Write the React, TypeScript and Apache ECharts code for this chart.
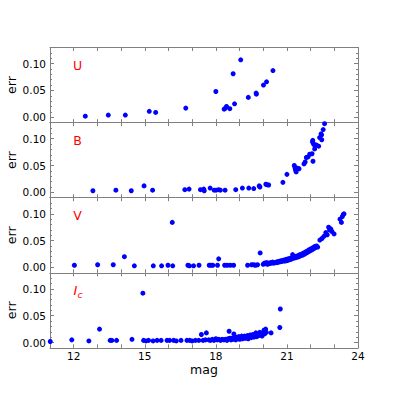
import React, { useEffect, useRef } from 'react';
import * as echarts from 'echarts';

const X_MIN = 11;
const X_MAX = 24;
const Y_MIN = -0.01;
const Y_MAX = 0.13;
const xLabelValues = [12, 15, 18, 21, 24];
const yMajorValues = [0, 0.05, 0.1];
const yMinorValues = [-0.01, 0, 0.01, 0.02, 0.03, 0.04, 0.05, 0.06, 0.07, 0.08, 0.09, 0.1, 0.11, 0.12, 0.13];
const bandNames = ['U', 'B', 'V', 'I'];

const uPoints: [number, number][] = [
  [12.49, 0.002], [13.46, 0.004], [14.18, 0.004], [15.19, 0.011], [15.46, 0.009],
  [16.73, 0.017], [18.0, 0.048], [18.35, 0.015], [18.4, 0.017], [18.45, 0.02],
  [18.59, 0.016], [18.79, 0.025], [18.73, 0.081], [19.05, 0.107], [19.37, 0.037],
  [19.7, 0.045], [19.71, 0.043], [20.01, 0.06], [20.14, 0.066], [20.41, 0.087],
];

const bPoints: [number, number][] = [
  [12.81, 0.003], [13.78, 0.004], [14.43, 0.003], [14.97, 0.012], [15.33, 0.004],
  [16.69, 0.005], [16.87, 0.006], [17.35, 0.005], [17.49, 0.006], [17.51, 0.003],
  [17.76, 0.008], [17.93, 0.004], [18.01, 0.004], [18.12, 0.005], [18.19, 0.004],
  [18.39, 0.004], [18.84, 0.005], [19.12, 0.008], [19.39, 0.008], [19.6, 0.007],
  [19.83, 0.012], [19.86, 0.01], [20.11, 0.015], [20.17, 0.014], [20.23, 0.0137],
  [20.83, 0.0186], [21.0, 0.0335], [21.31, 0.05], [21.34, 0.047], [21.37, 0.041],
  [21.4, 0.043], [21.35, 0.044], [21.39, 0.038], [21.51, 0.044], [21.45, 0.045],
  [21.72, 0.053], [21.77, 0.0565], [21.82, 0.065], [21.89, 0.066], [21.96, 0.071],
  [22.06, 0.072], [22.1, 0.058], [22.08, 0.094], [22.09, 0.097], [22.12, 0.091],
  [22.14, 0.089], [22.17, 0.081], [22.25, 0.088], [22.34, 0.086], [22.38, 0.102],
  [22.44, 0.109], [22.46, 0.107], [22.47, 0.098], [22.53, 0.117], [22.59, 0.128],
];

const vPoints: [number, number][] = [
  [12.03, 0.004], [13.01, 0.005], [13.67, 0.005], [14.14, 0.02], [14.56, 0.003],
  [15.36, 0.003], [15.71, 0.003], [15.98, 0.004], [16.18, 0.003], [16.16, 0.084],
  [16.82, 0.004], [16.89, 0.003], [17.06, 0.003], [17.29, 0.004], [17.72, 0.004],
  [17.79, 0.004], [17.87, 0.004], [18.07, 0.004], [18.12, 0.016], [18.37, 0.004],
  [18.48, 0.004], [18.61, 0.004], [18.75, 0.004], [19.34, 0.004], [19.51, 0.005],
  [19.6, 0.005], [19.67, 0.004], [19.76, 0.005], [19.87, 0.027],
  [20.0, 0.006], [20.05, 0.008], [20.1, 0.007], [20.14, 0.009], [20.18, 0.006],
  [20.22, 0.008], [20.27, 0.007], [20.31, 0.009], [20.36, 0.008], [20.4, 0.01],
  [20.45, 0.008], [20.5, 0.009], [20.55, 0.01], [20.59, 0.009], [20.63, 0.011],
  [20.68, 0.01], [20.72, 0.012], [20.77, 0.011], [20.8, 0.013], [20.85, 0.012],
  [20.89, 0.014], [20.93, 0.012], [20.97, 0.015], [21.01, 0.013], [21.05, 0.016],
  [21.09, 0.014], [21.13, 0.017], [21.17, 0.015], [21.21, 0.018], [21.24, 0.024],
  [21.27, 0.017], [21.31, 0.019], [21.35, 0.018], [21.39, 0.021], [21.43, 0.019],
  [21.47, 0.022], [21.51, 0.02], [21.55, 0.024], [21.59, 0.022], [21.63, 0.025],
  [21.67, 0.023], [21.71, 0.027], [21.75, 0.025], [21.79, 0.029], [21.83, 0.027],
  [21.87, 0.031], [21.9, 0.029], [21.94, 0.033], [21.98, 0.031], [22.02, 0.035],
  [22.06, 0.033], [22.1, 0.037], [22.14, 0.035], [22.18, 0.039], [22.21, 0.037],
  [22.25, 0.04], [22.3, 0.038], [22.39, 0.051], [22.48, 0.054], [22.56, 0.058],
  [22.64, 0.065], [22.7, 0.061], [22.76, 0.075], [22.8, 0.07], [22.85, 0.072],
  [22.9, 0.067], [22.99, 0.0625], [23.24, 0.09], [23.3, 0.084], [23.34, 0.095],
  [23.38, 0.099], [23.41, 0.1],
];

const iPoints: [number, number][] = [
  [11.01, 0.002], [11.92, 0.005], [12.64, 0.003], [13.09, 0.025], [13.54, 0.004],
  [13.61, 0.004], [13.81, 0.004], [14.46, 0.006], [14.92, 0.092], [14.95, 0.004],
  [15.05, 0.003], [15.16, 0.004], [15.35, 0.003], [15.52, 0.004], [15.69, 0.004],
  [15.94, 0.004], [16.05, 0.004], [16.22, 0.004], [16.33, 0.003], [16.53, 0.004],
  [16.78, 0.004], [16.9, 0.004], [17.0, 0.003], [17.14, 0.004], [17.28, 0.004],
  [17.39, 0.015], [17.46, 0.004], [17.56, 0.005], [17.6, 0.018], [17.7, 0.005],
  [17.77, 0.004], [17.85, 0.006], [17.92, 0.004], [18.0, 0.007], [18.06, 0.005],
  [18.13, 0.006], [18.2, 0.004], [18.27, 0.006], [18.34, 0.005], [18.41, 0.006],
  [18.47, 0.004], [18.52, 0.007], [18.56, 0.021], [18.6, 0.008], [18.64, 0.005],
  [18.69, 0.008], [18.73, 0.006], [18.76, 0.016], [18.8, 0.009], [18.84, 0.005],
  [18.88, 0.01], [18.92, 0.007], [18.97, 0.011], [19.01, 0.006], [19.05, 0.009],
  [19.09, 0.012], [19.13, 0.007], [19.17, 0.01], [19.21, 0.012], [19.25, 0.008],
  [19.29, 0.011], [19.33, 0.013], [19.37, 0.007], [19.41, 0.012], [19.45, 0.014],
  [19.49, 0.009], [19.53, 0.013], [19.57, 0.015], [19.61, 0.01], [19.65, 0.014],
  [19.69, 0.018], [19.73, 0.011], [19.77, 0.016], [19.81, 0.013], [19.85, 0.019],
  [19.9, 0.015], [19.95, 0.012], [20.0, 0.018], [20.03, 0.023], [20.06, 0.016],
  [20.1, 0.025], [20.13, 0.019], [20.33, 0.018], [20.7, 0.028], [20.72, 0.0625],
];

const allPoints = [uPoints, bPoints, vPoints, iPoints];

const GRAY = '#808080';
const FONT = 'DejaVu Sans';
const GRID_TOP = 47.5;
const GRID_H = 75.1;

export default function App() {
  const ref = useRef<HTMLDivElement>(null);
  useEffect(() => {
    if (!ref.current) return;
    const chart = echarts.init(ref.current, undefined, { renderer: 'svg' });
    const grids: any[] = [];
    const xAxes: any[] = [];
    const yAxes: any[] = [];
    const series: any[] = [];
    allPoints.forEach((pts, i) => {
      const last = i === allPoints.length - 1;
      grids.push({
        left: 50, right: 41, top: GRID_TOP + i * GRID_H, height: GRID_H,
        containLabel: false, outerBoundsMode: 'none',
      });
      const baseX = {
        type: 'value', gridIndex: i, min: X_MIN, max: X_MAX, interval: 1,
        axisLine: { show: true, onZero: false, lineStyle: { color: GRAY, width: 1 } },
        axisTick: { show: true, inside: true, length: 3.5, lineStyle: { color: GRAY } },
        splitLine: { show: false },
      };
      xAxes.push({
        ...baseX, position: 'bottom',
        axisLabel: {
          show: last, customValues: xLabelValues, margin: 3,
          color: '#000', fontFamily: FONT, fontSize: 10.5,
          hideOverlap: false, showMinLabel: true, showMaxLabel: true,
        },
        name: last ? 'mag' : '', nameLocation: 'middle', nameGap: 15, nameMoveOverlap: false,
        nameTextStyle: { color: '#000', fontFamily: FONT, fontSize: 12.5 },
      });
      xAxes.push({ ...baseX, position: 'top', axisLabel: { show: false } });
      const baseY = {
        type: 'value', gridIndex: i, min: Y_MIN, max: Y_MAX,
        splitLine: { show: false },
      };
      yAxes.push({
        ...baseY, position: 'left',
        axisLine: { show: true, onZero: false, lineStyle: { color: GRAY, width: 1 } },
        axisTick: { show: true, inside: true, length: 4, customValues: yMajorValues, lineStyle: { color: GRAY } },
        axisLabel: {
          show: true, customValues: yMajorValues, margin: 4,
          formatter: (v: number) => v.toFixed(2),
          color: '#000', fontFamily: FONT, fontSize: 10.5,
        },
        name: 'err', nameLocation: 'middle', nameGap: 32, nameRotate: 90, nameMoveOverlap: false,
        nameTextStyle: { color: '#000', fontFamily: FONT, fontSize: 12.5 },
      });
      yAxes.push({
        ...baseY, position: 'left',
        axisLine: { show: false },
        axisTick: { show: true, inside: true, length: 2, customValues: yMinorValues, lineStyle: { color: GRAY } },
        axisLabel: { show: false },
      });
      yAxes.push({
        ...baseY, position: 'right',
        axisLine: { show: true, onZero: false, lineStyle: { color: GRAY, width: 1 } },
        axisTick: { show: true, inside: true, length: 4, customValues: yMajorValues, lineStyle: { color: GRAY } },
        axisLabel: { show: false },
      });
      yAxes.push({
        ...baseY, position: 'right',
        axisLine: { show: false },
        axisTick: { show: true, inside: true, length: 2, customValues: yMinorValues, lineStyle: { color: GRAY } },
        axisLabel: { show: false },
      });
      series.push({
        type: 'scatter', name: bandNames[i], xAxisIndex: 2 * i, yAxisIndex: 4 * i,
        data: pts, symbolSize: 5, itemStyle: { color: '#0000ff', opacity: 1 },
        clip: false,
      });
    });

    const labelY = [65, 140.5, 215.5];
    const graphic: any[] = labelY.map((y, i) => ({
      type: 'text', x: 77.5, y,
      style: {
        text: bandNames[i], fill: '#ff0000', font: `12.5px "${FONT}"`,
        align: 'center', verticalAlign: 'middle',
      },
    }));
    graphic.push({
      type: 'text', x: 75.5, y: 290.5,
      style: { text: 'I', fill: '#ff0000', font: `italic 13px "${FONT}"`, align: 'center', verticalAlign: 'middle' },
    });
    graphic.push({
      type: 'text', x: 80, y: 294.5,
      style: { text: 'c', fill: '#ff0000', font: `italic 9px "${FONT}"`, align: 'center', verticalAlign: 'middle' },
    });

    chart.setOption({
      animation: false,
      backgroundColor: '#fff',
      grid: grids,
      xAxis: xAxes,
      yAxis: yAxes,
      series,
      graphic,
    });
    return () => chart.dispose();
  }, []);
  return <div ref={ref} style={{ width: 399, height: 399, position: 'absolute', left: 0, top: 0 }} />;
}
